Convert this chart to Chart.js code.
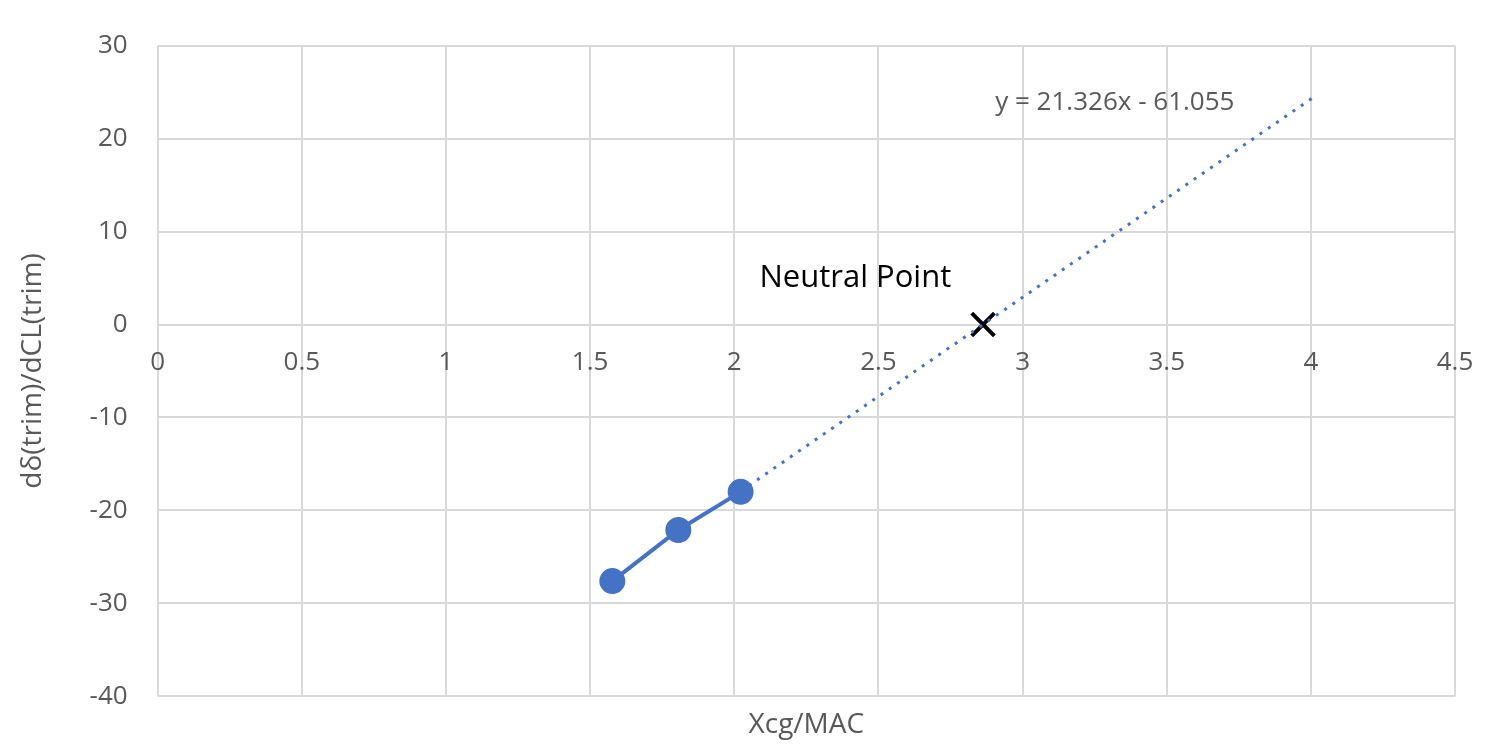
<!DOCTYPE html>
<html><head><meta charset="utf-8">
<script src="https://cdn.jsdelivr.net/npm/chart.js@4"></script>
<style>html,body{margin:0;padding:0;background:#fff}#w{width:1500px;height:750px}</style>
</head><body><div id="w"><canvas id="c"></canvas></div>
<script>
const xcg = [1.577, 1.806, 2.022];
const dTrim = [-27.6, -22.1, -18.0];
const trendX = [2.022, 4.02];
const slope = 21.326, intercept = -61.055;
const neutralX = [2.863];
const neutralY = [0];
const xTicks = [0,0.5,1,1.5,2,2.5,3,3.5,4,4.5];
const yTicks = [-40,-30,-20,-10,0,10,20,30];
const F = "'Open Sans', 'Liberation Sans', sans-serif";
const grey = '#595959';

const labels = {
  id:'labels',
  afterDatasetsDraw(ch){
    const {ctx, scales:{x,y}} = ch;
    ctx.save();
    ctx.fillStyle='#000'; ctx.font="31px "+F; ctx.textAlign='center'; ctx.textBaseline='middle';
    ctx.fillText('Neutral Point', x.getPixelForValue(2.42), y.getPixelForValue(5));
    ctx.fillStyle=grey; ctx.font="26px "+F;
    ctx.fillText('y = 21.326x - 61.055', x.getPixelForValue(3.32), y.getPixelForValue(23.9));
    ctx.restore();
  }
};

new Chart(document.getElementById('c'), {
  type:'scatter',
  data:{datasets:[
    {data: xcg.map((v,i)=>({x:v,y:dTrim[i]})), showLine:true, borderColor:'#4472c4', backgroundColor:'#4472c4', borderWidth:4, pointRadius:11, pointHoverRadius:11},
    {data: trendX.map(v=>({x:v,y:slope*v+intercept})), showLine:true, borderColor:'#4472c4', borderWidth:3, borderDash:[3,7], pointRadius:0},
    {data: neutralX.map((v,i)=>({x:v,y:neutralY[i]})), pointStyle:'crossRot', pointRadius:16, borderColor:'#000', borderWidth:4, backgroundColor:'#000'}
  ]},
  options:{
    responsive:true, maintainAspectRatio:false, animation:false,
    layout:{padding:{top:8,right:45,left:12,bottom:4}},
    plugins:{legend:{display:false}, tooltip:{enabled:false}},
    scales:{
      x:{type:'linear', min:0, max:4.5, position:{y:0},
        afterBuildTicks(a){a.ticks=xTicks.map(v=>({value:v}));},
        grid:{color:'#d9d9d9', lineWidth:2, drawTicks:false}, border:{color:'#d9d9d9', width:2},
        ticks:{color:grey, font:{family:F,size:26}, padding:22, callback:v=>String(v)}},
      x2:{type:'linear', min:0, max:4.5, position:'bottom', grid:{display:false}, border:{display:false},
        ticks:{display:false}, title:{display:true, text:'Xcg/MAC', color:grey, font:{family:F,size:28}, padding:{top:4,bottom:4}}},
      y:{min:-40, max:30,
        afterBuildTicks(a){a.ticks=yTicks.map(v=>({value:v}));},
        grid:{color:'#d9d9d9', lineWidth:2, drawTicks:false}, border:{display:false},
        ticks:{color:grey, font:{family:F,size:26}, padding:30},
        title:{display:true, text:'dδ(trim)/dCL(trim)', color:grey, font:{family:F,size:28}, padding:{bottom:10}}}
    }
  },
  plugins:[labels]
});
</script></body></html>
